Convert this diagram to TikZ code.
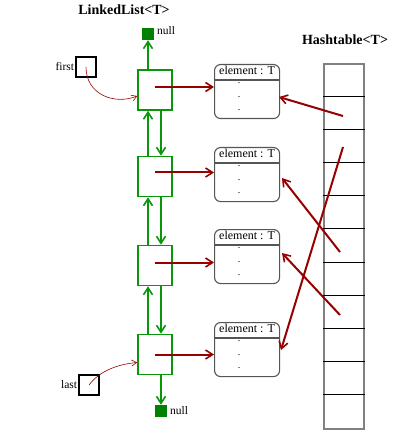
\documentclass[tikz,border=0pt]{standalone}
\usepackage{fontspec}
\setmainfont{Liberation Serif}
\usetikzlibrary{arrows.meta,calc}
\definecolor{lgreen}{RGB}{10,150,10}
\definecolor{dgreen}{RGB}{0,130,0}
\definecolor{dred}{RGB}{150,0,0}
\definecolor{egray}{RGB}{85,85,85}
\tikzset{
  lnode/.style={draw=lgreen,line width=1.6pt,minimum width=34pt,minimum height=40pt,inner sep=0pt},
  nullbox/.style={fill=dgreen,minimum size=12pt,inner sep=0pt},
  garrow/.style={draw=lgreen,line width=1.6pt,-{Straight Barb[length=7pt,width=9pt,line width=1.6pt]}},
  rarrow/.style={draw=dred,line width=2pt,-{Straight Barb[length=7pt,width=9pt,line width=1.6pt]}},
  tarrow/.style={draw=dred,line width=0.6pt,-{Straight Barb[length=5pt,width=6pt,line width=0.6pt]}},
  elbox/.style={draw=egray,line width=1.1pt,rounded corners=6pt,minimum width=65pt,minimum height=54pt,inner sep=0pt},
  ptrbox/.style={draw=black,line width=1.5pt,minimum size=20pt,inner sep=0pt},
  ttl/.style={font=\fontsize{14}{16}\selectfont\bfseries},
  lbl/.style={font=\fontsize{11.5}{13}\selectfont,inner sep=1pt},
  ellbl/.style={font=\fontsize{12}{14}\selectfont,inner sep=1pt},
  dotlbl/.style={font=\fontsize{10}{12}\selectfont,inner sep=0pt},
  cell/.style={draw=black,line width=1.1pt}
}
\begin{document}
\begin{tikzpicture}[x=1pt,y=-1pt]
\useasboundingbox (0,0) rectangle (400,446);
% titles
\node[ttl] (tll) at (124,10) {LinkedList<T>};
\node[ttl] (tht) at (345,40) {Hashtable<T>};
% nulls
\node[nullbox] (nulltop) at (148,34) {};
\node[lbl,anchor=west] (nulltoptxt) at (156,31) {null};
\node[nullbox] (nullbot) at (161,411) {};
\node[lbl,anchor=west] (nullbottxt) at (169,411) {null};
% list nodes
\node[lnode] (n1) at (155,90) {};
\node[lnode] (n2) at (155,176.5) {};
\node[lnode] (n3) at (155,265.5) {};
\node[lnode] (n4) at (155,354.5) {};
% green links
\draw[garrow] (n1.north -| nulltop) -- (nulltop.south);
\draw[garrow] (n4.south -| nullbot) -- (nullbot.north);
\foreach \a/\b in {n1/n2,n2/n3,n3/n4}{
  \draw[garrow] ($(\b.north)+(-7,0)$) -- ($(\a.south)+(-7,0)$);
  \draw[garrow] ($(\a.south)+(6,0)$) -- ($(\b.north)+(6,0)$);
}
% element boxes
\foreach \i/\t in {1/64,2/147,3/229,4/322}{
  \node[elbox,anchor=north west] (e\i) at (214,\t) {};
  \node[ellbl,anchor=north] (e\i t) at ($(e\i.north)+(0,1)$) {element : T};
  \draw[egray,line width=1.1pt] ($(e\i.north west)+(0,16)$) -- ($(e\i.north east)+(0,16)$);
  \node[dotlbl] (e\i d1) at ($(e\i.north)+(-8,19)$) {.};
  \node[dotlbl] (e\i d2) at ($(e\i.north)+(-8,33)$) {.};
  \node[dotlbl] (e\i d3) at ($(e\i.north)+(-8,46)$) {.};
}
% red links node -> element
\coordinate (r1) at ($(n1.center)+(0,-3)$);
\coordinate (r2) at ($(n2.center)+(0,-4)$);
\coordinate (r3) at ($(n3.center)+(0,-3)$);
\coordinate (r4) at ($(n4.center)+(0,0)$);
\foreach \i in {1,2,3,4}{
  \draw[rarrow] (r\i) -- (r\i -| e\i.west);
}
% hashtable
\node[draw=gray,line width=1.8pt,minimum width=40pt,minimum height=365pt,inner sep=0pt,anchor=north west] (ht) at (323,63) {};
\foreach \k in {1,...,10}{
  \draw[cell] ($(ht.north west)+(0,{\k*33.18})$) -- ($(ht.north east)+(0,{\k*33.18})$);
}
\coordinate (h1) at (343,116);
\coordinate (h2) at (343,147);
\coordinate (h3) at (340,252);
\coordinate (h4) at (340,315);
\coordinate (t1) at (279,97);
\coordinate (t2) at (281,350);
\coordinate (t3) at (282,178);
\coordinate (t4) at (282,253);
\foreach \i in {1,2,3,4}{
  \draw[rarrow] (h\i) -- (t\i);
}
% first / last
\node[ptrbox] (first) at (86,67) {};
\node[lbl,anchor=east] (firsttxt) at (first.west) {first};
\node[ptrbox] (last) at (89,385) {};
\node[lbl,anchor=east] (lasttxt) at (last.west) {last};
\draw[tarrow] (first.center) .. controls (86,95) and (115,105) .. ($(n1.west)+(0,6)$);
\draw[tarrow] (last.center) .. controls (100,370) and (120,364) .. ($(n4.west)+(0,8)$);
\end{tikzpicture}
\end{document}
